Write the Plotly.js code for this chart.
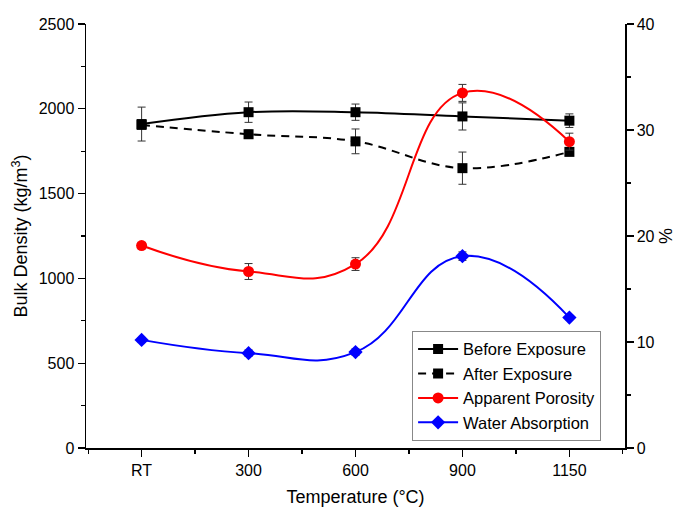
<!DOCTYPE html>
<html>
<head>
<meta charset="utf-8">
<script src="https://cdn.plot.ly/plotly-3.0.1.min.js"></script>
<style>html,body{margin:0;padding:0;background:#fff;}#chart{width:678px;height:509px;}</style>
</head>
<body>
<div id="chart"></div>
<script>
const categories = ["RT", "300", "600", "900", "1150"];
const beforeExposure = [1910, 1980, 1980, 1955, 1930];
const beforeErr = [100, 60, 48, 80, 40];
const afterExposure = [1905, 1850, 1808, 1650, 1746];
const afterErr = [0, 25, 73, 95, 0];
const apparentPorosity = [19.1, 16.65, 17.35, 33.5, 28.9];
const porosityErr = [0.3, 0.75, 0.6, 0.8, 0.8];
const waterAbsorption = [10.2, 8.95, 9.05, 18.1, 12.3];
const waterErr = [0.2, 0.3, 0.3, 0.4, 0.2];

const xs = categories.map((c, i) => i);
const font = "Arial, 'Liberation Sans', sans-serif";
const errStyle = (arr) => ({type: "data", array: arr, visible: true, color: "#333", thickness: 1, width: 4});

const traces = [
  {x: xs, y: beforeExposure, name: "Before Exposure", type: "scatter", mode: "lines+markers",
   line: {color: "#000", width: 2, shape: "spline", smoothing: 1.1},
   marker: {symbol: "square", size: 10, color: "#000"}, error_y: errStyle(beforeErr)},
  {x: xs, y: afterExposure, name: "After Exposure", type: "scatter", mode: "lines+markers",
   line: {color: "#000", width: 2, dash: "8px,6px", shape: "spline", smoothing: 1.1},
   marker: {symbol: "square", size: 10, color: "#000"}, error_y: errStyle(afterErr)},
  {x: xs, y: apparentPorosity, name: "Apparent Porosity", type: "scatter", mode: "lines+markers", yaxis: "y2",
   line: {color: "#ff0000", width: 2, shape: "spline", smoothing: 1.3},
   marker: {symbol: "circle", size: 11, color: "#ff0000"}, error_y: errStyle(porosityErr)},
  {x: xs, y: waterAbsorption, name: "Water Absorption", type: "scatter", mode: "lines+markers", yaxis: "y2",
   line: {color: "#0000ff", width: 2, shape: "spline", smoothing: 1.3},
   marker: {symbol: "diamond", size: 11, color: "#0000ff"}, error_y: errStyle(waterErr)}
];

const layout = {
  width: 678, height: 509,
  margin: {l: 86, r: 53, t: 24, b: 61},
  paper_bgcolor: "#fff", plot_bgcolor: "#fff",
  font: {family: font, size: 16, color: "#000"},
  showlegend: true,
  legend: {x: 0.605, y: 0.017, xanchor: "left", yanchor: "bottom", bgcolor: "#fff",
           bordercolor: "#888", borderwidth: 1, font: {family: font, size: 16.5, color: "#000"},
           tracegroupgap: 0, itemwidth: 40},
  xaxis: {range: [-0.52, 4.52], tickmode: "array", tickvals: xs, ticktext: categories,
          showline: true, linecolor: "#000", linewidth: 1.5, ticks: "outside", ticklen: 7, tickwidth: 1.2,
          tickcolor: "#000", showgrid: false, zeroline: false, tickfont: {size: 16},
          minor: {dtick: 0.5, tick0: 0, ticks: "outside", ticklen: 4, tickcolor: "#000", showgrid: false},
          title: {text: "Temperature (°C)", font: {size: 18}, standoff: 12}},
  yaxis: {range: [0, 2500], dtick: 500, showline: true, linecolor: "#000", linewidth: 1.5,
          ticks: "outside", ticklen: 7, tickwidth: 1.2, tickcolor: "#000", showgrid: false, zeroline: false,
          tickfont: {size: 16},
          minor: {dtick: 250, ticks: "outside", ticklen: 4, tickcolor: "#000", showgrid: false},
          title: {text: "Bulk Density (kg/m<sup>3</sup>)", font: {size: 18}, standoff: 6}},
  yaxis2: {range: [0, 40], dtick: 10, overlaying: "y", side: "right", showline: true, linecolor: "#000",
           linewidth: 1.5, ticks: "outside", ticklen: 7, tickwidth: 1.2, tickcolor: "#000", showgrid: false,
           zeroline: false, tickfont: {size: 16},
           minor: {dtick: 5, ticks: "outside", ticklen: 4, tickcolor: "#000", showgrid: false},
           title: {text: "%", font: {size: 18}, standoff: 6}}
};

Plotly.newPlot("chart", traces, layout, {displayModeBar: false, staticPlot: true});
</script>
</body>
</html>
